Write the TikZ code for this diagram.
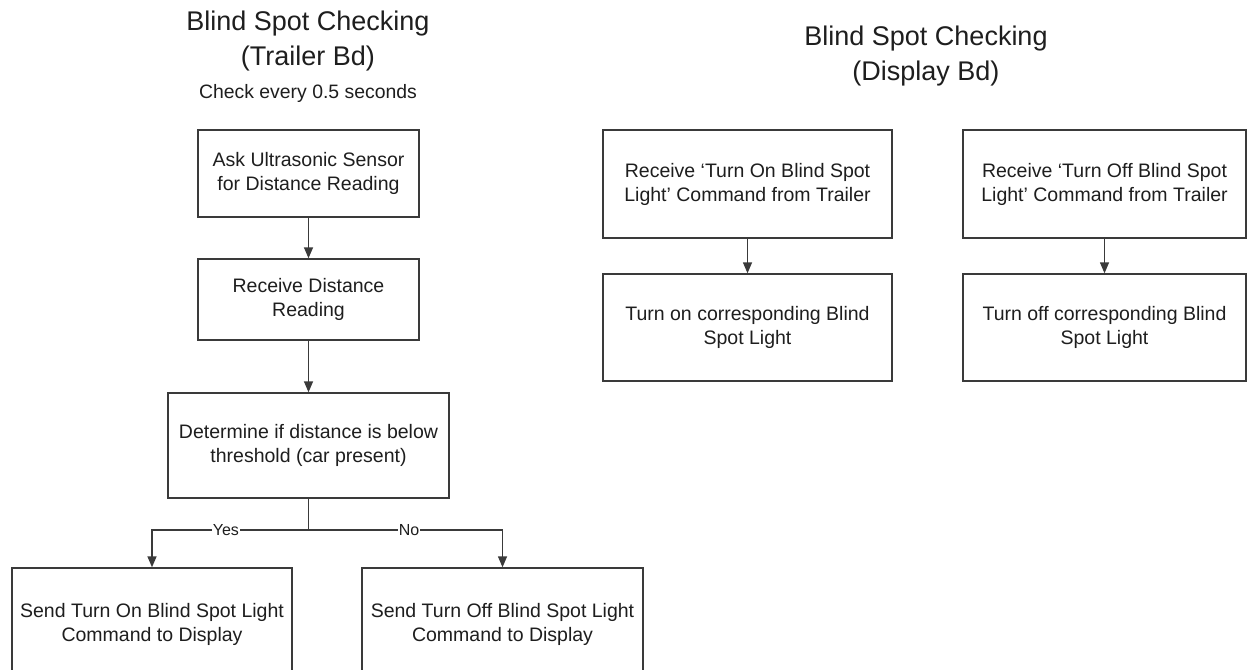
\documentclass[tikz,border=0pt]{standalone}
\usepackage{fontspec}
\setmainfont{Liberation Sans}
\usetikzlibrary{arrows.meta}
\definecolor{linec}{HTML}{3A3A3A}
\definecolor{textc}{HTML}{1E1E1E}
\begin{document}
\begin{tikzpicture}[x=1pt,y=-1pt,
  stepbox/.style={draw=linec,line width=1.4pt,rectangle,inner sep=0pt,align=center,
    text=textc,font=\fontsize{19.5}{24}\selectfont},
  arr/.style={draw=linec,line width=1.4pt,-{Triangle[length=11pt,width=9pt]}},
  conn/.style={draw=linec,line width=1.4pt},
  titletxt/.style={anchor=base,text=textc,font=\fontsize{27}{34}\selectfont,inner sep=0pt},
  subtxt/.style={anchor=base,text=textc,font=\fontsize{19.4}{24}\selectfont,inner sep=0pt},
  lbl/.style={fill=white,text=textc,font=\fontsize{16}{18}\selectfont,inner sep=1pt}]
\useasboundingbox (0,0) rectangle (1249,669);
\clip (0,0) rectangle (1249,669);
\fill[white] (0,0) rectangle (1249,669);

% titles
\node[titletxt] (t1a) at (308,31) {Blind Spot Checking};
\node[titletxt] (t1b) at (308,65) {(Trailer Bd)};
\node[subtxt] (t1c) at (308,98) {Check every 0.5 seconds};
\node[titletxt] (t2a) at (926,46) {Blind Spot Checking};
\node[titletxt] (t2b) at (926,80) {(Display Bd)};

% trailer board flow
\node[stepbox,minimum width=221pt,minimum height=87pt] (b1) at (308.5,173.5)
  {Ask Ultrasonic Sensor\\for Distance Reading};
\node[stepbox,minimum width=221pt,minimum height=81pt] (b2) at (308.5,299.5)
  {Receive Distance\\Reading};
\node[stepbox,minimum width=281pt,minimum height=105pt] (b3) at (308.5,445.5)
  {Determine if distance is below\\threshold (car present)};
\node[stepbox,minimum width=280pt,minimum height=112pt] (b4) at (152,624)
  {Send Turn On Blind Spot Light\\Command to Display};
\node[stepbox,minimum width=281pt,minimum height=112pt] (b5) at (502.5,624)
  {Send Turn Off Blind Spot Light\\Command to Display};

\draw[arr] (b1.south) -- (b2.north);
\draw[arr] (b2.south) -- (b3.north);
\coordinate (split) at (308.5,530);
\draw[conn] (b3.south) -- (split);
\draw[arr] (split) -| node[lbl,pos=0.264] {Yes} (b4.north);
\draw[arr] (split) -| node[lbl,pos=0.259] {No} (b5.north);

% display board flow
\node[stepbox,minimum width=289pt,minimum height=108pt] (d1) at (747.5,184)
  {Receive `Turn On Blind Spot\\Light' Command from Trailer};
\node[stepbox,minimum width=283pt,minimum height=108pt] (d2) at (1104.5,184)
  {Receive `Turn Off Blind Spot\\Light' Command from Trailer};
\node[stepbox,minimum width=289pt,minimum height=107pt] (d3) at (747.5,327.5)
  {Turn on corresponding Blind\\Spot Light};
\node[stepbox,minimum width=283pt,minimum height=107pt] (d4) at (1104.5,327.5)
  {Turn off corresponding Blind\\Spot Light};

\draw[arr] (d1.south) -- (d3.north);
\draw[arr] (d2.south) -- (d4.north);
\end{tikzpicture}
\end{document}
